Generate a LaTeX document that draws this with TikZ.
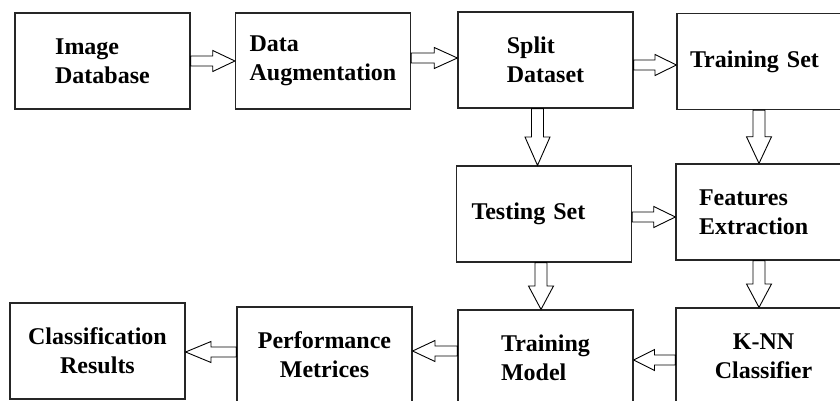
\documentclass[tikz,border=0pt]{standalone}
\usepackage{fontspec}
\setmainfont{Liberation Serif}
\usetikzlibrary{calc}

% hollow block arrows, tip at the x (or y) of the second point
\newcommand{\hblk}[2]{%
  \draw[blockarr] let \p1=(#1), \p2=(#2), \p3=($(\p1)!.5!(\p2)$) in
    (\x1,\y1+5pt) -- (\x3,\y1+5pt) -- (\x3,\y1+10.5pt) -- (\x2,\y1)
    -- (\x3,\y1-10.5pt) -- (\x3,\y1-5pt) -- (\x1,\y1-5pt) -- cycle;}
\newcommand{\vblk}[2]{%
  \draw[blockarr] let \p1=(#1), \p2=(#2), \p3=($(\p1)!.5!(\p2)$) in
    (\x1+6pt,\y1) -- (\x1+6pt,\y3) -- (\x1+12.5pt,\y3) -- (\x1,\y2)
    -- (\x1-12.5pt,\y3) -- (\x1-6pt,\y3) -- (\x1-6pt,\y1) -- cycle;}

\begin{document}
\begin{tikzpicture}[
    x=1pt, y=-1pt,
    stage/.style={
        rectangle,
        draw=black!85,
        line width=1.2pt,
        minimum width=175pt,
        minimum height=96pt,
        inner sep=0pt,
        font=\fontsize{24}{29}\selectfont\bfseries,
        align=center
    },
    blockarr/.style={
        draw=black,
        line width=0.9pt,
        fill=white,
        line join=miter
    }
]
    \useasboundingbox (0,0) rectangle (840,401);
    \fill[white] (0,0) rectangle (840,401);
    \clip (0,0) rectangle (840,401);

    % top row
    \node[stage, align=left] (img) at (102.5,61) {Image\\Database};
    \node[stage, align=left] (aug) at (323,61) {Data\\Augmentation};
    \node[stage, align=left] (split) at (545.5,60) {Split\\Dataset};
    \node[stage, align=left, text width=149pt, inner xsep=13pt] (trainset) at (764.5,61.5) {Training Set};

    % middle row
    \node[stage, align=left, text width=145pt, inner xsep=15pt] (test) at (544,214) {Testing Set};
    \node[stage, align=left, text width=129pt, inner xsep=23pt] (feat) at (763.5,212) {Features\\Extraction};

    % bottom row
    \node[stage] (cls) at (97.5,351) {Classification\\Results};
    \node[stage] (perf) at (324.5,355) {Performance\\Metrices};
    \node[stage, align=left] (trmodel) at (545.5,358) {Training\\Model};
    \node[stage] (knn) at (763.5,356) {K-NN\\Classifier};

    % arrows
    \hblk{img.east}{aug.west}
    \hblk{[yshift=3pt]aug.east}{split.west}
    \hblk{[yshift=-5pt]split.east}{trainset.west}
    \vblk{[xshift=-8pt]split.south}{test.north}
    \vblk{[xshift=-5.5pt]trainset.south}{feat.north}
    \hblk{[yshift=-3pt]test.east}{feat.west}
    \vblk{[xshift=-3pt]test.south}{trmodel.north}
    \vblk{[xshift=-4.5pt]feat.south}{knn.north}
    \hblk{[yshift=-4pt]knn.west}{trmodel.east}
    \hblk{[yshift=7pt]trmodel.west}{perf.east}
    \hblk{[yshift=3pt]perf.west}{cls.east}

\end{tikzpicture}
\end{document}
